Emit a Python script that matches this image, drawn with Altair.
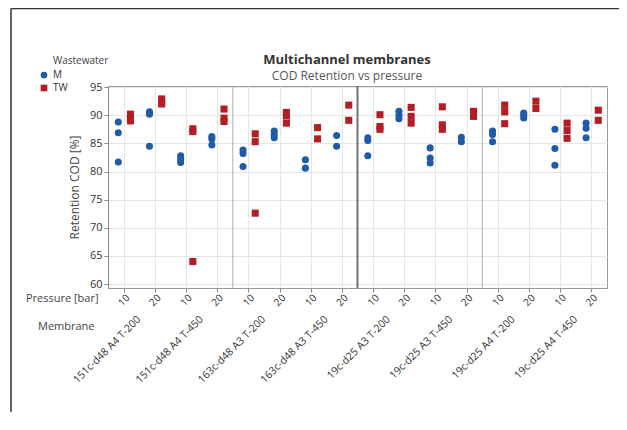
import altair as alt
import pandas as pd

membranes = ["151c-d48 A4 T-200", "151c-d48 A4 T-450", "163c-d48 A3 T-200", "163c-d48 A3 T-450",
             "19c-d25 A3 T-200", "19c-d25 A3 T-450", "19c-d25 A4 T-200", "19c-d25 A4 T-450"]
pressures = ["10", "20"]
series = ["M", "TW"]

m_p10 = [[88.8, 86.9, 81.7], [82.8, 82.2, 81.6], [83.8, 83.2, 80.9], [82.1, 80.6],
         [86.0, 85.5, 82.8], [84.2, 82.4, 81.5], [87.2, 86.6, 85.3], [87.5, 84.1, 81.1]]
m_p20 = [[90.6, 90.2, 84.5], [86.2, 85.8, 84.7], [87.2, 86.6, 86.0], [86.4, 84.5],
         [90.7, 90.0, 89.4], [86.1, 85.3], [90.4, 90.0, 89.5], [88.6, 87.7, 86.0]]
tw_p10 = [[90.2, 89.5, 89.0], [87.6, 87.1, 64.0], [86.7, 85.3, 72.6], [87.8, 85.8],
          [90.1, 88.0, 87.5], [91.5, 88.3, 87.5], [91.8, 90.6, 88.5], [88.6, 87.3, 85.9]]
tw_p20 = [[92.9, 92.4, 92.0], [91.1, 89.5, 88.9], [90.5, 89.9, 88.6], [91.8, 89.1],
          [91.4, 89.8, 88.6], [90.7, 89.8], [92.5, 91.2], [90.9, 89.1]]

title_text = "Multichannel membranes"
subtitle_text = "COD Retention vs pressure"

offsets = {"M": -0.17, "TW": 0.22}
src = {("M", 0): m_p10, ("M", 1): m_p20, ("TW", 0): tw_p10, ("TW", 1): tw_p20}

rows = []
for (s, p), table in src.items():
    for i, vals in enumerate(table):
        for v in vals:
            rows.append({"Membrane": membranes[i], "Pressure": pressures[p], "Wastewater": s,
                         "pos": 2 * i + p + offsets[s], "Retention": v})
df = pd.DataFrame(rows)

mem_df = pd.DataFrame({"Membrane": membranes, "center": [2 * i + 0.5 for i in range(len(membranes))]})
thin_sep = pd.DataFrame({"sep": [3.5, 11.5]})
thick_sep = pd.DataFrame({"sep": [7.5]})

FONT = "Open Sans"
xscale = alt.Scale(domain=[-0.5, 15.5], nice=False, zero=False)
yscale = alt.Scale(domain=[59.3, 95.2], nice=False, zero=False)

xaxis = alt.Axis(values=list(range(16)), labelExpr="datum.value % 2 == 0 ? '10' : '20'",
                 labelAngle=-45, labelAlign="center", labelBaseline="middle", labelPadding=8,
                 labelOverlap=False, labelFontSize=10, labelColor="#333333", tickSize=4,
                 tickColor="#888888", grid=True, gridColor="#e6e6e6", domainColor="#999999",
                 title="Pressure [bar]", titleAngle=0, titleX=-10, titleY=10, titleAlign="right",
                 titleBaseline="middle", titleFontSize=11, titleFontWeight="normal", titleColor="#444444")
yaxis = alt.Axis(values=[60, 65, 70, 75, 80, 85, 90, 95], labelFontSize=11, labelColor="#333333",
                 tickSize=4, tickColor="#888888", grid=True, gridColor="#e6e6e6", domainColor="#888888",
                 title="Retention COD [%]", titleFontSize=12, titleFontWeight="normal",
                 titleColor="#444444", titlePadding=8)

seps_thin = alt.Chart(thin_sep).mark_rule(color="#b0b0b0", strokeWidth=1).encode(
    x=alt.X("sep:Q", scale=xscale, axis=xaxis))
seps_thick = alt.Chart(thick_sep).mark_rule(color="#707070", strokeWidth=2).encode(
    x=alt.X("sep:Q", scale=xscale, axis=xaxis))

points = alt.Chart(df).mark_point(filled=True, opacity=1, size=50).encode(
    x=alt.X("pos:Q", scale=xscale, axis=xaxis),
    y=alt.Y("Retention:Q", scale=yscale, axis=yaxis),
    color=alt.Color("Wastewater:N", scale=alt.Scale(domain=series, range=["#1f5ba8", "#b21e24"]),
                    legend=alt.Legend(title=None, orient="none", legendX=-69, legendY=-16,
                                      labelFontSize=10, labelColor="#333333", symbolSize=45,
                                      rowPadding=3, labelFont=FONT)),
    shape=alt.Shape("Wastewater:N", scale=alt.Scale(domain=series, range=["circle", "square"])),
)

mem_labels = alt.Chart(mem_df).mark_text(angle=315, align="right", baseline="middle",
                                         fontSize=10.5, color="#333333", font=FONT).encode(
    x=alt.X("center:Q", scale=xscale, axis=xaxis),
    y=alt.value(232),
    text="Membrane:N",
)

annot = pd.DataFrame({"t": ["Membrane"]})
mem_title = alt.Chart(annot).mark_text(align="left", baseline="middle", fontSize=11,
                                       color="#444444", font=FONT).encode(
    x=alt.value(-70), y=alt.value(241), text="t:N")

leg_title = alt.Chart(pd.DataFrame({"t": ["Wastewater"]})).mark_text(
    align="left", baseline="middle", fontSize=10, color="#444444", font=FONT).encode(
    x=alt.value(-55), y=alt.value(-25), text="t:N")

main_title = alt.Chart(pd.DataFrame({"t": [title_text]})).mark_text(
    align="center", baseline="middle", fontSize=13, fontWeight="bold", color="#333333", font=FONT).encode(
    x=alt.value(239), y=alt.value(-26), text="t:N")
sub_title = alt.Chart(pd.DataFrame({"t": [subtitle_text]})).mark_text(
    align="center", baseline="middle", fontSize=12, color="#555555", font=FONT).encode(
    x=alt.value(239), y=alt.value(-10), text="t:N")

frame_top = alt.Chart(annot).mark_rule(color="#333333", strokeWidth=1.5).encode(
    x=alt.value(-97), x2=alt.value(520), y=alt.value(-77.5))
frame_left = alt.Chart(annot).mark_rule(color="#333333", strokeWidth=1.5).encode(
    x=alt.value(-97), y=alt.value(-77.5), y2=alt.value(340))

chart = alt.layer(seps_thin, seps_thick, points, mem_labels, mem_title, leg_title, main_title,
                  sub_title, frame_top, frame_left).properties(
    width=499, height=202,
    padding={"left": 100, "top": 78, "right": 12, "bottom": 124},
    autosize=alt.AutoSizeParams(type="none"),
).configure_view(stroke="#9a9a9a", strokeWidth=1).configure_axis(
    labelFont=FONT, titleFont=FONT
)

chart.save("out.html", embed_options={"renderer": "svg", "actions": False})
